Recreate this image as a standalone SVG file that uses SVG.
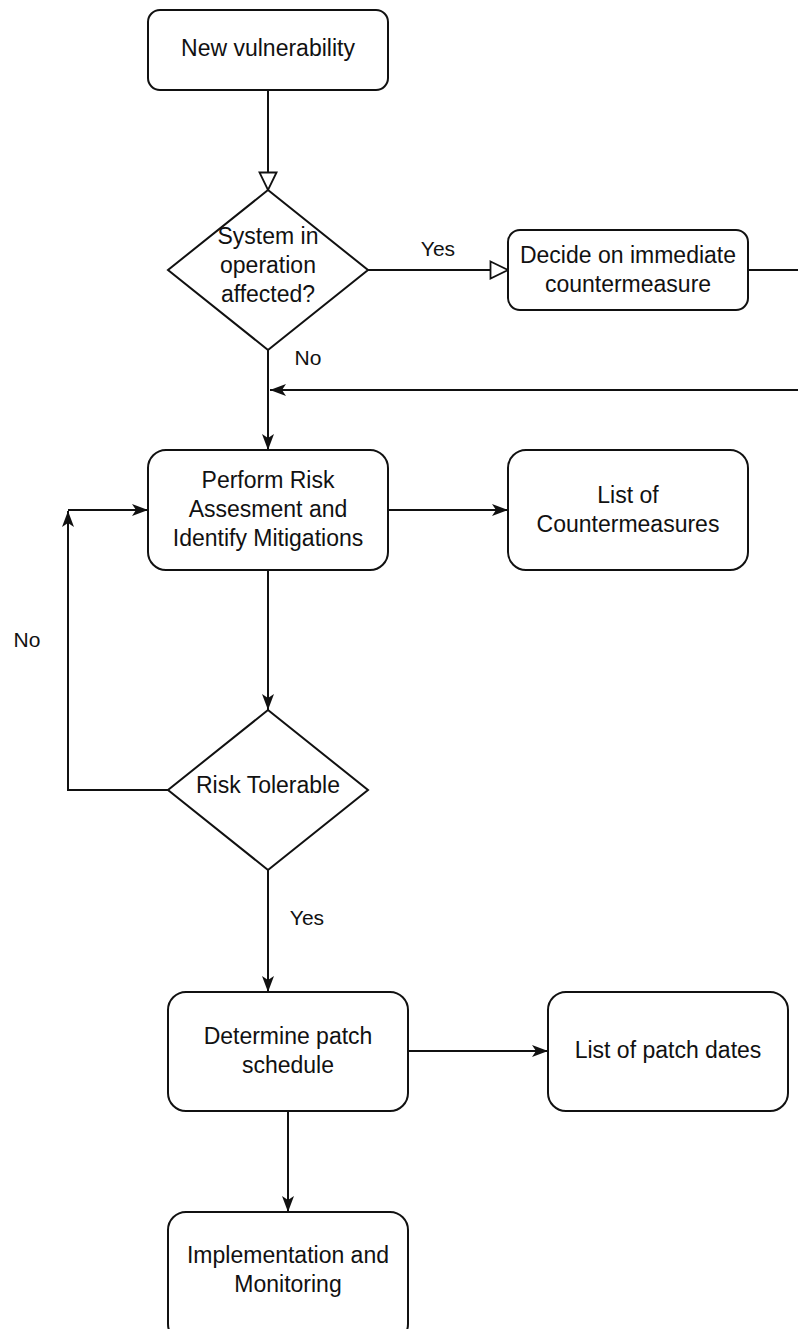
<svg xmlns="http://www.w3.org/2000/svg" width="798" height="1329" viewBox="0 0 798 1329">
  <style>
    .box { fill: #ffffff; stroke: #111111; stroke-width: 2; }
    .edge { fill: none; stroke: #111111; stroke-width: 2; }
    .t { font-family: "Liberation Sans", Arial, sans-serif; font-size: 23px; fill: #111111; text-anchor: middle; }
    .lbl { font-family: "Liberation Sans", Arial, sans-serif; font-size: 21px; fill: #111111; text-anchor: middle; }
  </style>
  <defs>
    <marker id="solid" viewBox="0 0 16 12" refX="16" refY="6" markerWidth="16" markerHeight="12" markerUnits="userSpaceOnUse" orient="auto">
      <path d="M0,0 L16,6 L0,12 L4,6 Z" fill="#111111"/>
    </marker>
    <marker id="hollow" viewBox="0 0 20 20" refX="19" refY="10" markerWidth="20" markerHeight="20" markerUnits="userSpaceOnUse" orient="auto">
      <path d="M1.5,1.5 L19,10 L1.5,18.5 Z" fill="#ffffff" stroke="#111111" stroke-width="1.8"/>
    </marker>
  </defs>

  <rect width="798" height="1329" fill="#ffffff"/>

  <!-- connectors -->
  <g id="connectors">
    <line class="edge" x1="268" y1="90" x2="268" y2="190" marker-end="url(#hollow)"/>
    <line class="edge" x1="368" y1="270" x2="508" y2="270" marker-end="url(#hollow)"/>
    <line class="edge" x1="748" y1="270" x2="798" y2="270"/>
    <line class="edge" x1="798" y1="390" x2="270" y2="390" marker-end="url(#solid)"/>
    <line class="edge" x1="268" y1="350" x2="268" y2="450" marker-end="url(#solid)"/>
    <line class="edge" x1="388" y1="510" x2="508" y2="510" marker-end="url(#solid)"/>
    <line class="edge" x1="268" y1="570" x2="268" y2="710" marker-end="url(#solid)"/>
    <polyline class="edge" points="168,790 68,790 68,511" marker-end="url(#solid)"/>
    <line class="edge" x1="68" y1="510" x2="148" y2="510" marker-end="url(#solid)"/>
    <line class="edge" x1="268" y1="870" x2="268" y2="992" marker-end="url(#solid)"/>
    <line class="edge" x1="408" y1="1051" x2="548" y2="1051" marker-end="url(#solid)"/>
    <line class="edge" x1="288" y1="1110" x2="288" y2="1212" marker-end="url(#solid)"/>
    <text class="lbl" x="438" y="256">Yes</text>
    <text class="lbl" x="308" y="365">No</text>
    <text class="lbl" x="27" y="647">No</text>
    <text class="lbl" x="307" y="925">Yes</text>
  </g>

  <g id="new-vulnerability">
    <rect class="box" x="148" y="10" width="240" height="80" rx="12"/>
    <text class="t" x="268" y="56">New vulnerability</text>
  </g>

  <g id="system-affected">
    <polygon class="box" points="268,190 368,270 268,350 168,270"/>
    <text class="t" x="268" y="244">System in</text>
    <text class="t" x="268" y="273">operation</text>
    <text class="t" x="268" y="302">affected?</text>
  </g>

  <g id="immediate-countermeasure">
    <rect class="box" x="508" y="230" width="240" height="80" rx="12"/>
    <text class="t" x="628" y="263">Decide on immediate</text>
    <text class="t" x="628" y="292">countermeasure</text>
  </g>

  <g id="risk-assessment">
    <rect class="box" x="148" y="450" width="240" height="120" rx="18"/>
    <text class="t" x="268" y="488">Perform Risk</text>
    <text class="t" x="268" y="517">Assesment and</text>
    <text class="t" x="268" y="546">Identify Mitigations</text>
  </g>

  <g id="countermeasure-list">
    <rect class="box" x="508" y="450" width="240" height="120" rx="18"/>
    <text class="t" x="628" y="503">List of</text>
    <text class="t" x="628" y="532">Countermeasures</text>
  </g>

  <g id="risk-tolerable">
    <polygon class="box" points="268,710 368,790 268,870 168,790"/>
    <text class="t" x="268" y="793">Risk Tolerable</text>
  </g>

  <g id="patch-schedule">
    <rect class="box" x="168" y="992" width="240" height="119" rx="18"/>
    <text class="t" x="288" y="1044">Determine patch</text>
    <text class="t" x="288" y="1073">schedule</text>
  </g>

  <g id="patch-dates">
    <rect class="box" x="548" y="992" width="240" height="119" rx="18"/>
    <text class="t" x="668" y="1058">List of patch dates</text>
  </g>

  <g id="implementation">
    <rect class="box" x="168" y="1212" width="240" height="130" rx="18"/>
    <text class="t" x="288" y="1263">Implementation and</text>
    <text class="t" x="288" y="1292">Monitoring</text>
  </g>
</svg>
